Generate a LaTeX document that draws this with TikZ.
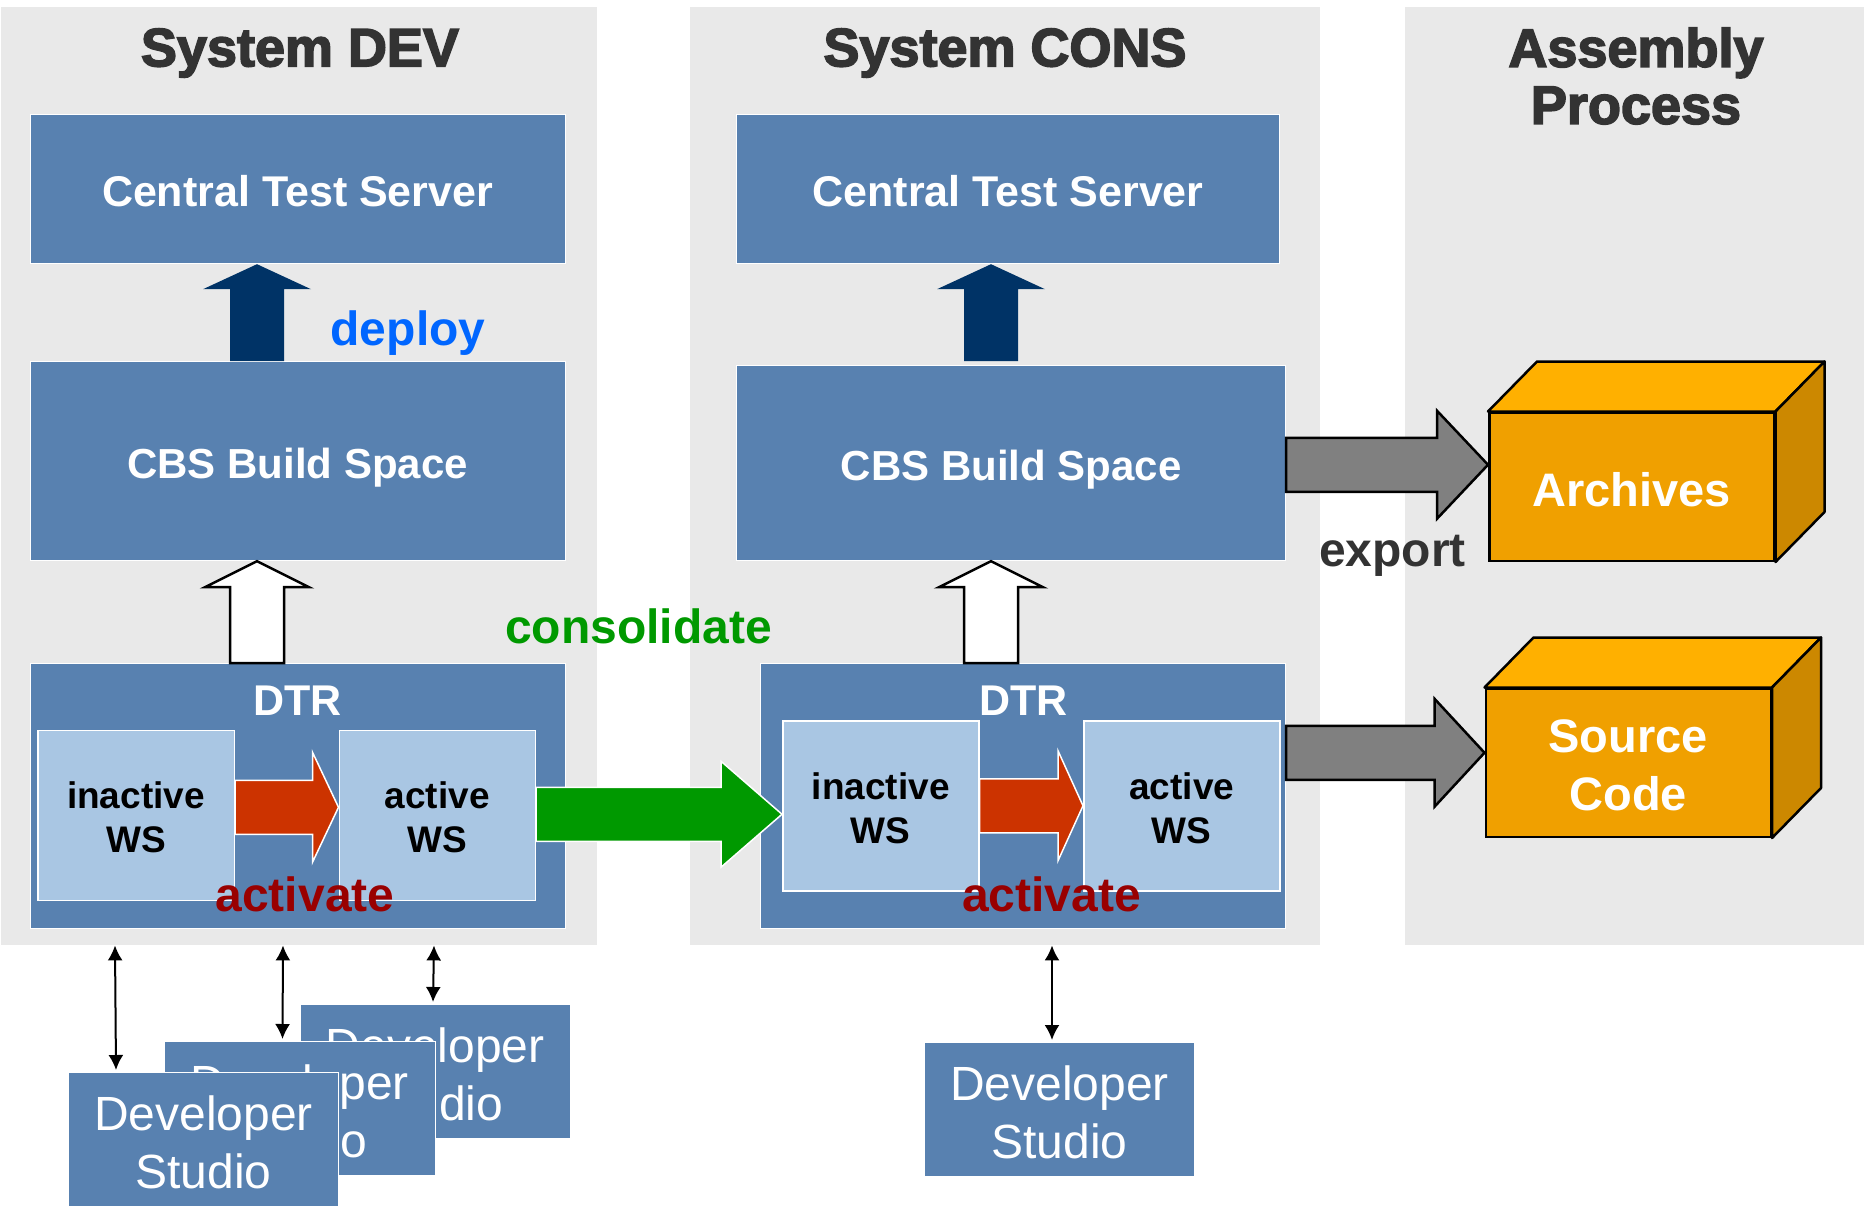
\documentclass[tikz,border=0pt]{standalone}
\usepackage{fontspec}
\setmainfont{Liberation Sans}
\newfontfamily\headfont[BoldFeatures={FakeBold=3}]{Liberation Sans}
\usetikzlibrary{arrows.meta,calc}

\definecolor{panelgray}{HTML}{E9E9E9}
\definecolor{boxblue}{HTML}{5881B0}
\definecolor{wsblue}{HTML}{A9C6E3}
\definecolor{navyblock}{HTML}{003366}
\definecolor{redblock}{HTML}{CC3300}
\definecolor{greenblock}{HTML}{009900}
\definecolor{grayblock}{HTML}{808080}
\definecolor{cubefront}{HTML}{F0A000}
\definecolor{cubetop}{HTML}{FFB000}
\definecolor{cubeside}{HTML}{CC8800}
\definecolor{darktext}{HTML}{333333}

% start, tip: the shaft half width, head start and head half width are in pt
\newcommand{\arrowright}[6]{\draw[#1] let \p1=(#2), \p2=(#3) in
    (\x1,\y2+#4pt) -- (\x2-#5pt,\y2+#4pt) -- (\x2-#5pt,\y2+#6pt) -- (\x2,\y2)
    -- (\x2-#5pt,\y2-#6pt) -- (\x2-#5pt,\y2-#4pt) -- (\x1,\y2-#4pt) -- cycle;}
\newcommand{\arrowup}[6]{\draw[#1] let \p1=(#2), \p2=(#3) in
    (\x2-#4pt,\y1) -- (\x2-#4pt,\y2-#5pt) -- (\x2-#6pt,\y2-#5pt) -- (\x2,\y2)
    -- (\x2+#6pt,\y2-#5pt) -- (\x2+#4pt,\y2-#5pt) -- (\x2+#4pt,\y1) -- cycle;}
\newcommand{\studiotext}{\rule{0pt}{40pt}Developer\\Studio}

\begin{document}
\begin{tikzpicture}[x=1pt,y=-1pt,
panel/.style={fill=panelgray, draw=none, anchor=north west, inner sep=0pt},
bluebox/.style={fill=boxblue, draw=white, line width=1.2pt, anchor=north west, inner sep=0pt, text=white, align=center},
boxfont/.style={font=\fontsize{43}{58}\selectfont\bfseries, text height=35pt, text depth=0pt},
cbsfont/.style={font=\fontsize{42}{58}\selectfont\bfseries, text height=35pt, text depth=0pt},
wsbox/.style={fill=wsblue, draw=white, line width=1.5pt, anchor=north west, inner sep=0pt, text=black, align=center, font=\fontsize{37}{44}\selectfont\bfseries},
studiobox/.style={bluebox, font=\fontsize{48}{58}\selectfont},
cube/.style={fill=cubefront, draw=black, line width=2.5pt, anchor=north west, inner sep=0pt, text=white, align=center, font=\fontsize{47}{58}\selectfont\bfseries},
cubeface/.style={draw=black, line width=2.5pt, line join=round},
heading/.style={text=darktext, align=center, inner sep=0pt, font=\fontsize{54}{57}\selectfont\headfont\bfseries},
tag/.style={inner sep=0pt, font=\fontsize{48}{58}\selectfont\bfseries},
whiteblock/.style={fill=white, draw=black, line width=2.5pt, line join=miter},
navyblk/.style={fill=navyblock, draw=none},
redblk/.style={fill=redblock, draw=white, line width=1.5pt},
greenblk/.style={fill=greenblock, draw=white, line width=1.5pt},
grayblk/.style={fill=grayblock, draw=black, line width=2.5pt},
studioarrow/.style={{Latex[length=15pt,width=15pt]}-{Latex[length=15pt,width=15pt]}, draw=black, line width=2pt}
]
    \useasboundingbox (0,0) rectangle (1864,1207);

    % grey columns
    \node[panel, minimum width=596pt, minimum height=938pt] (panelDev) at (1,7) {};
    \node[panel, minimum width=630pt, minimum height=938pt] (panelCons) at (690,7) {};
    \node[panel, minimum width=459pt, minimum height=938pt] (panelAsm) at (1405,7) {};

    \node[heading] (headDev) at (300,53) {System DEV};
    \node[heading] (headCons) at (1005,53) {System CONS};
    \node[heading] (headAsm) at (1636,76) {Assembly\\Process};

    % System DEV
    \node[bluebox, boxfont, minimum width=535pt, minimum height=149pt] (ctsDev) at (29.5,114) {Central Test Server};
    \node[bluebox, cbsfont, minimum width=535pt, minimum height=199pt] (cbsDev) at (29.5,361) {CBS Build Space};
    \node[bluebox, minimum width=535pt, minimum height=265pt] (dtrDev) at (29.5,663) {};
    \node[text=white, inner sep=0pt, boxfont] (dtrDevText) at (297.5,698) {DTR};
    \node[wsbox, minimum width=196.5pt, minimum height=170pt] (inactiveDev) at (37,729.5) {\rule{0pt}{30pt}inactive\\WS};
    \node[wsbox, minimum width=196pt, minimum height=170pt] (activeDev) at (338.5,729.5) {\rule{0pt}{30pt}active\\WS};

    % System CONS
    \node[bluebox, boxfont, minimum width=543pt, minimum height=149pt] (ctsCons) at (736,114) {Central Test Server};
    \node[bluebox, cbsfont, minimum width=549pt, minimum height=195pt] (cbsCons) at (736,365) {CBS Build Space};
    \node[bluebox, minimum width=525pt, minimum height=265pt] (dtrCons) at (760,663) {};
    \node[text=white, inner sep=0pt, boxfont] (dtrConsText) at (1023.5,698) {DTR};
    \node[wsbox, minimum width=196pt, minimum height=170pt] (inactiveCons) at (782,720) {\rule{0pt}{32pt}inactive\\WS};
    \node[wsbox, minimum width=196pt, minimum height=170pt] (activeCons) at (1083,720) {\rule{0pt}{32pt}active\\WS};

    % cubes
    \node[cube, text height=39pt, text depth=0pt, minimum width=285pt, minimum height=148pt] (archives) at (1488,411.5) {Archives};
    \node[cube, minimum width=285pt, minimum height=148pt] (source) at (1484.5,687.5) {\rule{0pt}{37pt}Source\\Code};
    \foreach \cubename in {archives,source} {
        \draw[cubeface, fill=cubetop] (\cubename.north west) -- ($(\cubename.north west)+(49,-50)$) -- ($(\cubename.north east)+(49,-50)$) -- (\cubename.north east) -- cycle;
        \draw[cubeface, fill=cubeside] (\cubename.north east) -- ($(\cubename.north east)+(49,-50)$) -- ($(\cubename.south east)+(49,-50)$) -- (\cubename.south east) -- cycle;
    }

    % block arrows
    \arrowup{navyblk}{[xshift=227.5pt]cbsDev.north west}{[xshift=227.5pt]ctsDev.south west}{27}{25}{54}
    \arrowup{navyblk}{[xshift=255pt,yshift=4pt]cbsCons.north west}{[xshift=255pt]ctsCons.south west}{27}{25}{54}
    \arrowup{whiteblock}{[xshift=227.5pt]dtrDev.north west}{[xshift=227.5pt]cbsDev.south west}{27}{26}{52}
    \arrowup{whiteblock}{[xshift=231pt]dtrCons.north west}{[xshift=255pt]cbsCons.south west}{27}{26}{52}

    \arrowright{redblk}{inactiveDev.east}{[yshift=8pt]activeDev.west}{27}{26}{55}
    \arrowright{redblk}{inactiveCons.east}{activeCons.west}{27}{25}{55}
    \arrowright{greenblk}{activeDev.east}{[yshift=-8.5pt]inactiveCons.west}{27}{61}{53}
    \arrowright{grayblk}{cbsCons.east}{[yshift=22pt]archives.west}{27}{51}{54}
    \arrowright{grayblk}{dtrCons.east}{[yshift=10pt]source.west}{27}{50}{54}

    % labels
    \node[tag, text=blue!60!cyan] (deployText) at (408,333.5) {deploy};
    \node[tag, text=greenblock] (consolidateText) at (638.5,626) {consolidate};
    \node[tag, text=darktext] (exportText) at (1392.5,555.5) {export};
    \node[tag, text=red!60!black] (activateDev) at (305,894) {activate};
    \node[tag, text=red!60!black] (activateCons) at (1051.5,894) {activate};

    % developer studios
    \node[studiobox, minimum width=270pt, minimum height=134pt] (studioC) at (299.5,1004) {\studiotext};
    \node[studiobox, minimum width=271pt, minimum height=134pt] (studioB) at (163.5,1041) {\studiotext};
    \node[studiobox, minimum width=270pt, minimum height=134pt] (studioA) at (68,1072) {\studiotext};
    \node[studiobox, minimum width=270pt, minimum height=134pt] (studioCons) at (924,1042) {\studiotext};

    \draw[studioarrow] ([xshift=114pt]panelDev.south west) -- ([xshift=48pt,yshift=2pt]studioA.north west);
    \draw[studioarrow] ([xshift=282pt]panelDev.south west) -- ([xshift=119pt,yshift=2pt]studioB.north west);
    \draw[studioarrow] ([xshift=433pt]panelDev.south west) -- ([xshift=133.5pt,yshift=2pt]studioC.north west);
    \draw[studioarrow] ([xshift=362pt]panelCons.south west) -- ([xshift=128pt,yshift=2pt]studioCons.north west);
\end{tikzpicture}
\end{document}
